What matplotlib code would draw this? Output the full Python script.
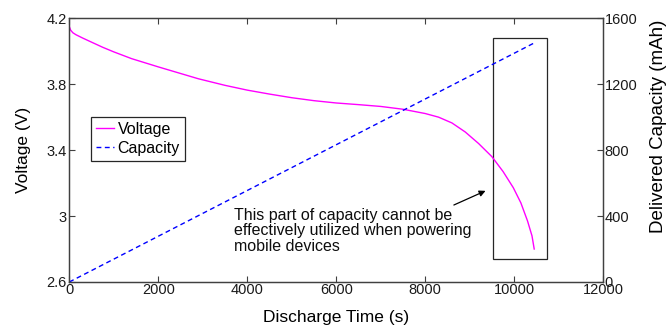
import matplotlib
matplotlib.use("Agg")
import matplotlib.pyplot as plt
import matplotlib.patches as patches

plt.rcParams['font.family'] = ['Liberation Sans', 'DejaVu Sans']

# Data
time_v = [0, 30, 80, 150, 300, 500, 750, 1000, 1400, 2000, 2500, 2900, 3500, 4000,
          4500, 5000, 5500, 6000, 6500, 7000, 7500, 8000, 8300, 8600, 8900, 9200,
          9500, 9750, 9980, 10150, 10300, 10400, 10450]
voltage = [4.149, 4.128, 4.112, 4.100, 4.080, 4.055, 4.024, 3.996, 3.955, 3.905,
           3.865, 3.833, 3.793, 3.764, 3.740, 3.718, 3.700, 3.686, 3.676, 3.665,
           3.648, 3.622, 3.600, 3.565, 3.510, 3.440, 3.360, 3.270, 3.172, 3.080,
           2.970, 2.880, 2.800]
time_c = [0, 10449]
capacity = [0, 1450]

x_ticks = [0, 2000, 4000, 6000, 8000, 10000, 12000]
v_ticks = [2.6, 3.0, 3.4, 3.8, 4.2]
v_labels = ['2.6', '3', '3.4', '3.8', '4.2']
c_ticks = [0, 400, 800, 1200, 1600]

note = "This part of capacity cannot be\neffectively utilized when powering\nmobile devices"

fig = plt.figure(figsize=(6.67, 3.26), dpi=100)
ax = fig.add_axes([0.1039, 0.135, 0.8004, 0.809])
ax2 = ax.twinx()

l1, = ax.plot(time_v, voltage, color='#ff00ff', lw=1.0, label='Voltage')
l2, = ax2.plot(time_c, capacity, color='#0000ff', lw=1.0, linestyle=(0, (3.5, 2.5)),
               label='Capacity')

ax.set_xlim(0, 12000)
ax.set_ylim(2.6, 4.2)
ax2.set_ylim(0, 1600)
ax.set_xticks(x_ticks)
ax.set_yticks(v_ticks)
ax.set_yticklabels(v_labels)
ax2.set_yticks(c_ticks)

spine_c = '0.25'
for a in (ax, ax2):
    for s in a.spines.values():
        s.set_color(spine_c)
        s.set_linewidth(0.9)
ax.tick_params(direction='in', length=4, width=0.8, color=spine_c, labelsize=10.5,
               labelcolor='0.1', top=True, pad=2)
ax.tick_params(axis='x', pad=1)
ax2.tick_params(direction='in', length=4, width=0.8, color=spine_c, labelsize=10.5,
                labelcolor='0.1', pad=1)

# axis labels, placed where the reference has them
ax.set_xlabel('Discharge Time (s)', fontsize=12.5)
ax.xaxis.set_label_coords(0.5, -0.133)
ax.xaxis.label.set(va='center', ha='center')
ax.set_ylabel('Voltage (V)', fontsize=12.5)
ax.yaxis.set_label_coords(-0.085, 0.5)
ax.yaxis.label.set(va='center', ha='center')
ax2.set_ylabel('Delivered Capacity (mAh)', fontsize=13.5)
ax2.yaxis.set_label_coords(1.103, 0.589)
ax2.yaxis.label.set(va='center', ha='center')

leg = ax.legend([l1, l2], ['Voltage', 'Capacity'], loc='upper left',
                bbox_to_anchor=(0.041, 0.625), borderaxespad=0, fancybox=False,
                edgecolor='0.15', framealpha=1, fontsize=11.5, handlelength=1.1,
                handletextpad=0.25, borderpad=0.3, labelspacing=0.25)
leg.get_frame().set_linewidth(0.9)

rect = patches.Rectangle((9528, 2.741), 10735 - 9528, 4.083 - 2.741, fill=False,
                         edgecolor='0.15', lw=0.9)
ax.add_patch(rect)

ax.annotate('', xy=(9356, 3.153), xytext=(8644, 3.067),
            arrowprops=dict(arrowstyle='-|>', color='black', lw=0.9,
                            mutation_scale=9, shrinkA=0, shrinkB=0))
ax.text(3708, 3.05, note, fontsize=11.5, va='top', ha='left', linespacing=1.05,
        color='0.05')

fig.savefig('out.png', dpi=100)
